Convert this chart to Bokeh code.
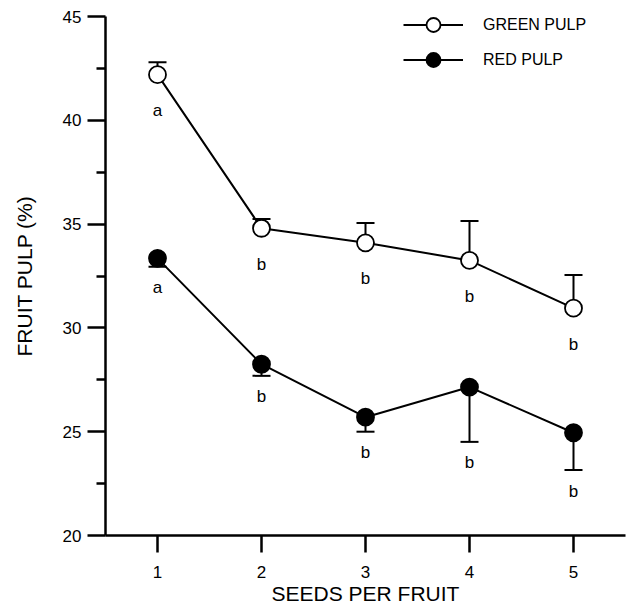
from bokeh.plotting import figure
from bokeh.models import Legend, LegendItem, FixedTicker, Range1d
from bokeh.core.properties import value
from bokeh.embed import file_html
from bokeh.resources import INLINE

# ---- data ----
seeds = [1, 2, 3, 4, 5]
green_mean = [42.2, 34.8, 34.1, 33.25, 30.95]
green_se = [0.6, 0.45, 0.95, 1.9, 1.6]
green_letters = ["a", "b", "b", "b", "b"]
red_mean = [33.35, 28.25, 25.7, 27.15, 24.95]
red_se = [0.4, 0.56, 0.7, 2.64, 1.8]
red_letters = ["a", "b", "b", "b", "b"]
x_ticks = [1, 2, 3, 4, 5]
y_ticks = [20, 25, 30, 35, 40, 45]

FONT = "Liberation Sans"

p = figure(width=638, height=607, output_backend="svg", toolbar_location=None,
           x_range=Range1d(0.5, 5.5), y_range=Range1d(20, 45),
           min_border_left=105, min_border_right=13, min_border_top=16, min_border_bottom=70)
p.outline_line_color = None
p.xgrid.grid_line_color = None
p.ygrid.grid_line_color = None
p.background_fill_color = "white"
p.border_fill_color = "white"

# error bars
g_hi = [m + s for m, s in zip(green_mean, green_se)]
r_lo = [m - s for m, s in zip(red_mean, red_se)]
p.segment(x0=seeds, y0=green_mean, x1=seeds, y1=g_hi, line_color="black", line_width=2)
p.scatter(x=seeds, y=g_hi, marker="dash", size=18, line_color="black", line_width=2)
p.segment(x0=seeds, y0=red_mean, x1=seeds, y1=r_lo, line_color="black", line_width=2)
p.scatter(x=seeds, y=r_lo, marker="dash", size=18, line_color="black", line_width=2)

# lines and markers
g_line = p.line(seeds, green_mean, line_color="black", line_width=2)
g_pts = p.scatter(seeds, green_mean, marker="circle", size=17, fill_color="white",
                  line_color="black", line_width=1.8)
r_line = p.line(seeds, red_mean, line_color="black", line_width=2)
r_pts = p.scatter(seeds, red_mean, marker="circle", size=17, fill_color="black",
                  line_color="black", line_width=1.8)

# significance letters
p.text(x=seeds, y=green_mean, text=green_letters, text_align="center", text_baseline="middle",
       y_offset=36, text_font=value(FONT), text_font_size="17px", text_color="black")
p.text(x=seeds, y=r_lo, text=red_letters, text_align="center", text_baseline="middle",
       y_offset=21, text_font=value(FONT), text_font_size="17px", text_color="black")

# axes
for ax in (p.xaxis[0], p.yaxis[0]):
    ax.axis_line_width = 2.5
    ax.axis_line_color = "black"
    ax.major_tick_line_width = 2.5
    ax.major_tick_line_color = "black"
    ax.major_tick_in = 0
    ax.major_label_text_font = FONT
    ax.major_label_text_font_size = "17px"
    ax.major_label_text_color = "black"
    ax.axis_label_text_font = FONT
    ax.axis_label_text_font_size = "21px"
    ax.axis_label_text_font_style = "normal"
    ax.axis_label_text_color = "black"

p.xaxis[0].ticker = FixedTicker(ticks=x_ticks)
p.xaxis[0].major_tick_out = 17
p.xaxis[0].minor_tick_line_color = None
p.xaxis[0].major_label_standoff = 13
p.xaxis[0].axis_label = "SEEDS PER FRUIT"
p.xaxis[0].axis_label_standoff = 1

p.yaxis[0].ticker = FixedTicker(ticks=y_ticks, minor_ticks=[22.5, 27.5, 32.5, 37.5, 42.5])
p.yaxis[0].major_tick_out = 18
p.yaxis[0].minor_tick_out = 9
p.yaxis[0].minor_tick_in = 0
p.yaxis[0].minor_tick_line_width = 2.5
p.yaxis[0].minor_tick_line_color = "black"
p.yaxis[0].major_label_standoff = 6
p.yaxis[0].axis_label = "FRUIT PULP (%)"
p.yaxis[0].axis_label_standoff = 24

legend = Legend(items=[LegendItem(label="GREEN PULP", renderers=[g_line, g_pts]),
                       LegendItem(label="RED PULP", renderers=[r_line, r_pts])],
                location=(298, 458), glyph_width=60, glyph_height=35, spacing=0,
                label_standoff=20, padding=0, margin=0, border_line_color=None,
                background_fill_alpha=0, label_text_font=FONT, label_text_font_size="16px",
                label_text_color="black")
p.add_layout(legend, "center")

open("out.html", "w").write(file_html(p, INLINE))
